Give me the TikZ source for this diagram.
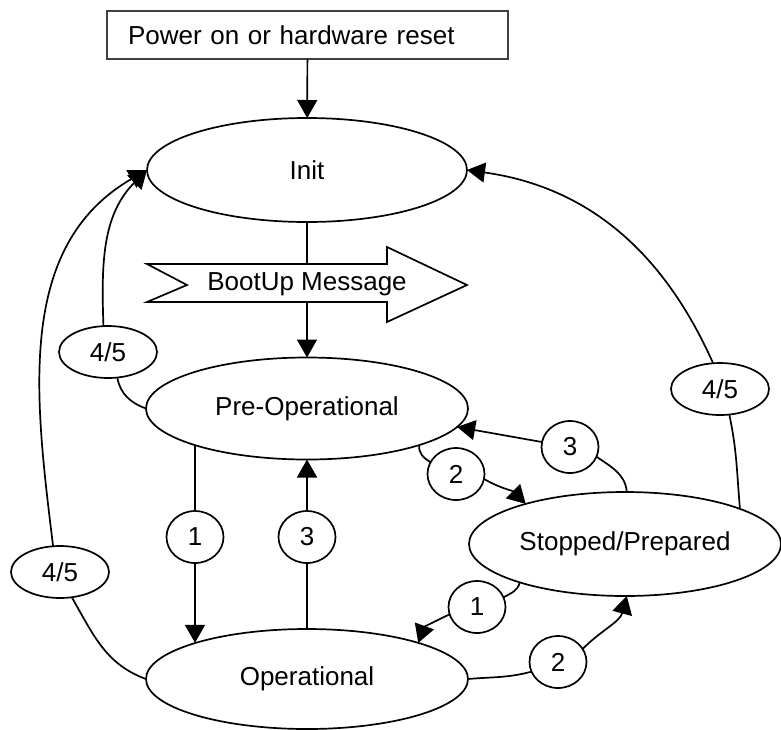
\documentclass[tikz,border=0pt]{standalone}
\usepackage{fontspec}
\setmainfont{Liberation Sans}
\usetikzlibrary{shapes.geometric,arrows.meta}
\begin{document}
\begin{tikzpicture}[x=1pt,y=1pt,inner sep=0pt,outer sep=0pt,line width=1.7pt,
font=\fontsize{26}{30}\selectfont,
>={Triangle[length=18pt,width=20pt]},
stateblock/.style={draw,ellipse,minimum width=322pt,minimum height=102pt},
transblock/.style={draw,ellipse,minimum width=57pt,minimum height=52pt},
resetblock/.style={transblock,minimum width=98pt}]
\useasboundingbox (0,0) rectangle (781,-729);
\draw (307.5,-35) node[draw=black!75,rectangle,minimum height=48pt,text width=359pt,inner xsep=21pt,align=left] (power) {Power on or hardware reset};
\draw (307,-170) node[stateblock,minimum width=320pt,minimum height=104pt] (init) {Init};
\draw (307,-408.5) node[stateblock] (pre) {Pre-Operational};
\draw (307,-679) node[stateblock,minimum height=100pt] (op) {Operational};
\draw (625,-544) node[stateblock,minimum width=312pt,minimum height=104pt] (stop) {Stopped/Prepared};
% transitions
\draw (195,-537) node[transblock] (c1a) {1};
\draw (307,-537) node[transblock] (c3a) {3};
\draw (456,-474) node[transblock] (c2a) {2};
\draw (570,-447) node[transblock] (c3b) {3};
\draw (477,-607) node[transblock] (c1b) {1};
\draw (558,-662) node[transblock] (c2b) {2};
\draw (108,-352) node[resetblock] (rpre) {4/5};
\draw (60,-572) node[resetblock] (rop) {4/5};
\draw (720,-389) node[resetblock] (rstop) {4/5};
\draw[->] (power) -- (init);
\draw[->] (init) -- (pre);
\filldraw[fill=white] (147,-264) -- (387,-264) -- (387,-247) -- (467,-285) -- (387,-322) -- (387,-302) -- (147,-302) -- (187,-285) -- cycle;
\draw (307,-284) node (boot) {BootUp Message};
% pre <-> op
\draw (c1a) -- (c1a |- pre.198);
\draw[->] (c1a) -- (c1a |- op.162);
\draw (c3a) -- (op);
\draw[->] (c3a) -- (pre);
% pre <-> stop
\draw (pre.-18) to[out=-100,in=150] (c2a.155);
\draw[->] (c2a.-10) to[out=-30,in=135] (stop.158);
\draw (stop.88) to[out=95,in=-35] (c3b.-20);
\draw[->] (c3b) -- (pre.-7);
% stop <-> op
\draw (stop.-160) to[out=-100,in=30] (c1b.20);
\draw[->] (c1b.-165) to[out=-155,in=70] (op.18);
\draw (op.east) to[out=5,in=-165] (c2b.-160);
\draw[->] (c2b.28) to[out=45,in=-105] (stop.-88);
% back to init
\draw (pre.west) to[out=160,in=-80] (rpre.-70);
\draw[->] (rpre.100) to[out=92,in=-135] (init.west);
\draw (op.west) to[out=160,in=-60] (rop.-65);
\draw[->] (rop.105) to[out=97,in=-150] (init.west);
\draw (stop.17) to[out=95,in=-78] (rstop.-70);
\draw[->] (rstop.105) to[out=114,in=-8] (init.east);
\end{tikzpicture}
\end{document}
